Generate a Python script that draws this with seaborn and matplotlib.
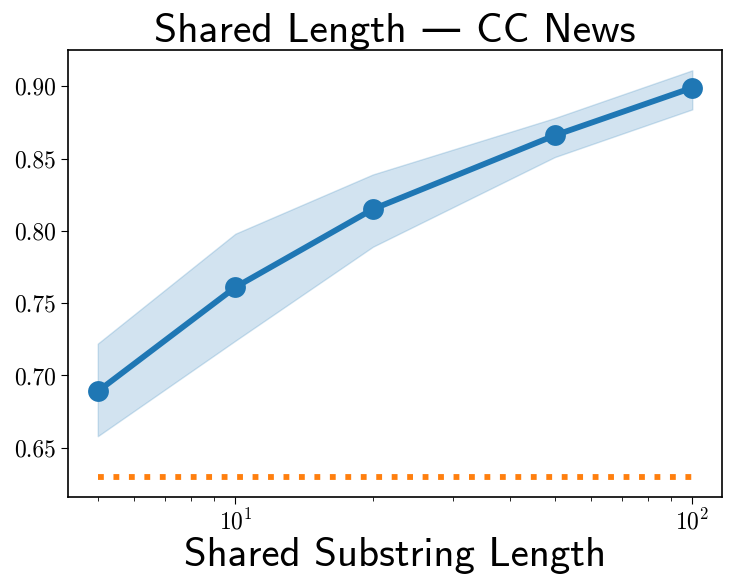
import matplotlib
matplotlib.use("Agg")
import matplotlib.pyplot as plt
import seaborn as sns
import numpy as np
import pandas as pd

# Shared substring length vs. score on CC News
lengths = [5, 10, 20, 50, 100]
mean_score = [0.689, 0.761, 0.815, 0.866, 0.899]
lower_band = [0.658, 0.724, 0.789, 0.851, 0.884]
upper_band = [0.722, 0.798, 0.839, 0.878, 0.911]
baseline_level = 0.630

sns.set_style("ticks")
plt.rcParams.update({
    "font.family": ["cmr10", "DejaVu Sans"],
    "mathtext.fontset": "cm",
    "axes.formatter.use_mathtext": True,
    "axes.edgecolor": "black",
    "axes.linewidth": 1.2,
    "text.color": "black",
    "axes.labelcolor": "black",
    "xtick.color": "black",
    "ytick.color": "black",
    "xtick.major.size": 5,
    "ytick.major.size": 5,
    "xtick.minor.size": 3,
})

df = pd.DataFrame({"length": lengths, "score": mean_score})

fig, ax = plt.subplots(figsize=(7.41, 5.85), dpi=100)
fig.subplots_adjust(left=0.0918, right=0.9744, top=0.9145, bottom=0.1504)

ax.fill_between(lengths, lower_band, upper_band, color="#1f77b4", alpha=0.2)
sns.lineplot(data=df, x="length", y="score", ax=ax, color="#1f77b4",
             linewidth=4.2, marker="o", markersize=15, markeredgewidth=0)
ax.plot([lengths[0], lengths[-1]], [baseline_level, baseline_level],
        color="#ff7f0e", linestyle=":", linewidth=4.2)

ax.set_xscale("log")
ax.set_yticks([0.65, 0.70, 0.75, 0.80, 0.85, 0.90])
ax.set_yticklabels(["0.65", "0.70", "0.75", "0.80", "0.85", "0.90"])
ax.tick_params(axis="both", which="major", labelsize=17)
ax.set_ylabel("")
ax.set_xlabel("Shared Substring Length", fontsize=29.5, color="black",
              family=["cmss10", "DejaVu Sans"], labelpad=2)
ax.set_title("Shared Length — CC News", fontsize=30, color="black",
             family=["cmss10", "DejaVu Sans"], pad=5)

fig.savefig("out.png", dpi=100)
